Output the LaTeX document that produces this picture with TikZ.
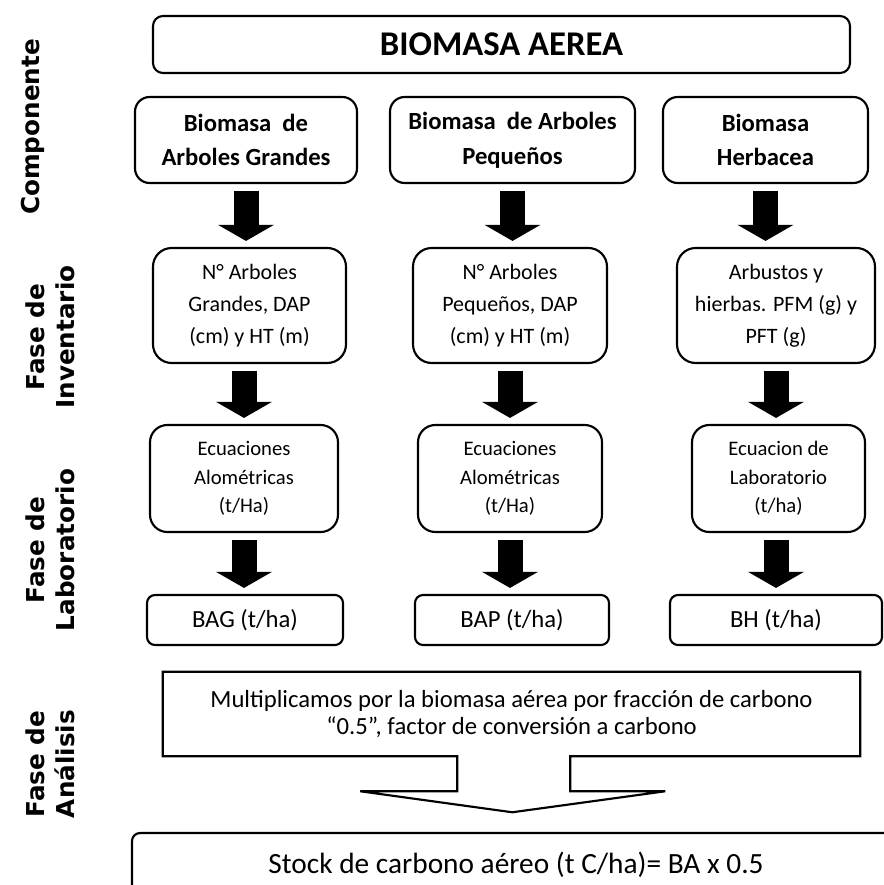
\documentclass[tikz,border=0pt]{standalone}
\usepackage{fontspec}
\setmainfont{Carlito}
\newfontfamily\phasefont{DejaVu Sans}
\usetikzlibrary{arrows.meta}

\begin{document}
\begin{tikzpicture}[x=0.75pt,y=0.75pt,yscale=-1,xscale=1,
  box/.style={draw, line width=1.6pt, rounded corners=#1, align=center, inner sep=0pt},
  box/.default=8pt,
  titlebox/.style={box=7.5pt, minimum width=522.75pt, minimum height=42.75pt, font=\fontsize{26}{30}\selectfont\bfseries},
  compbox/.style={box=11pt, minimum height=64.5pt, font=\fontsize{18.5}{26}\selectfont\bfseries},
  invbox/.style={box=14pt, minimum height=86.25pt, font=\fontsize{16.5}{24}\selectfont},
  labbox/.style={box=13pt, minimum height=80.25pt, font=\fontsize{15.5}{21.4}\selectfont},
  resbox/.style={box=6pt, minimum height=37.5pt, font=\fontsize{18.5}{22}\selectfont},
  phase/.style={rotate=90, align=center, font=\fontsize{18.5}{22.5}\phasefont\bfseries},
  blockarrow/.style={line width=18.75pt, -{Triangle[width=41.25pt,length=12pt]}, shorten <=5.25pt, shorten >=4.5pt}]
%set diagram size 884 x 885
\useasboundingbox (0,0) rectangle (884,885);
\clip (0,0) rectangle (884,885);

%Shape: Title Rect
\draw (501.5,44.5) node (title) [titlebox] {BIOMASA AEREA};

%Shape: Component Rects
\draw (246,140) node (c1) [compbox, minimum width=166.5pt] {Biomasa\ \ de\\Arboles Grandes};
\draw (512.5,140) node (c2) [compbox, minimum width=183.75pt] {Biomasa\ \ de Arboles\\Pequeños};
\draw (765.5,140) node (c3) [compbox, minimum width=153.75pt] {Biomasa\\Herbacea};

%Shape: Inventario Rects
\draw (249.5,305.5) node (i1) [invbox, minimum width=144.75pt] {N° Arboles\\Grandes, DAP\\(cm) y HT (m)};
\draw (510,305.5) node (i2) [invbox, minimum width=145.5pt] {N° Arboles\\Pequeños, DAP\\(cm) y HT (m)};
\draw (776,305.5) node (i3) [invbox, minimum width=148.5pt] {Arbustos y\\hierbas. PFM (g) y\\PFT (g)};

%Shape: Laboratorio Rects
\draw (244,478.5) node (l1) [labbox, minimum width=141pt] {Ecuaciones\\Alométricas\\(t/Ha)};
\draw (510,478.5) node (l2) [labbox, minimum width=138pt] {Ecuaciones\\Alométricas\\(t/Ha)};
\draw (778.5,478.5) node (l3) [labbox, minimum width=129.75pt] {Ecuacion de\\Laboratorio\\(t/ha)};

%Shape: Result Rects
\draw (245,620) node (r1) [resbox, minimum width=147pt] {BAG (t/ha)};
\draw (512,620) node (r2) [resbox, minimum width=145.5pt] {BAP (t/ha)};
\draw (776,620) node (r3) [resbox, minimum width=159pt] {BH (t/ha)};

%Block Arrows
\draw [blockarrow] (c1.south) -- (c1.south |- i1.north);
\draw [blockarrow] (c2.south) -- (c2.south |- i2.north);
\draw [blockarrow] (c3.south) -- (c3.south |- i3.north);
\draw [blockarrow] (l1.north |- i1.south) -- (l1.north);
\draw [blockarrow] (i2.south) -- (i2.south |- l2.north);
\draw [blockarrow] (i3.south) -- (i3.south |- l3.north);
\draw [blockarrow] (l1.south) -- (l1.south |- r1.north);
\draw [blockarrow] (l2.south) -- (l2.south |- r2.north);
\draw [blockarrow] (r3.north |- l3.south) -- (r3.north);

%Shape: Callout (down arrow)
\draw (511.5,714) node (an) [inner sep=0pt, minimum width=522.75pt, minimum height=63pt, align=center, font=\fontsize{18.5}{20.3}\selectfont] {Multiplicamos por la biomasa aérea por fracción de carbono\\“0.5”, factor de conversión a carbono};
\draw [line width=1.6pt, line join=miter] (an.south west) -- (an.north west) -- (an.north east) -- (an.south east) -- ++(-290,0) -- ++(0,35) -- ++(95,0) -- ++(-153,21) -- ++(-152,-21) -- ++(97,0) -- ++(0,-35) -- cycle;

%Shape: Stock Rect
\draw (516,865) node (stock) [box=6pt, minimum width=576pt, minimum height=48pt, font=\fontsize{22}{26}\selectfont] {Stock de carbono aéreo (t C/ha)= BA x 0.5};

% Text Node
\draw (33,127) node (pcomp) [phase] {Componente};
% Text Node
\draw (50,337) node (pinv) [phase] {Fase de\\Inventario};
% Text Node
\draw (50,550) node (plab) [phase] {Fase de\\Laboratorio};
% Text Node
\draw (50,764) node (pana) [phase] {Fase de\\Análisis};

\end{tikzpicture}
\end{document}
